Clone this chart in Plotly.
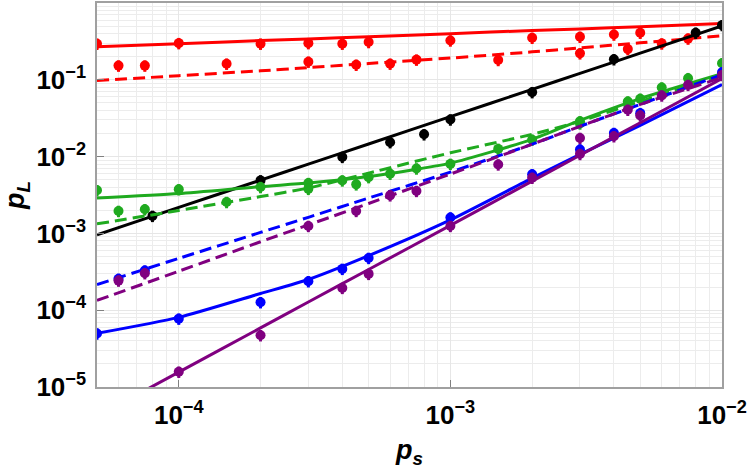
import plotly.graph_objects as go

# ---------- data ----------
LINE_X = [5e-5, 1e-4, 2e-4, 3e-4, 5e-4, 1e-3, 2e-3, 3e-3, 5e-3, 1e-2]

red_line = [0.269, 0.295, 0.324, 0.340, 0.364, 0.399, 0.438, 0.460, 0.492, 0.539]
red_dash_line = [0.0977, 0.113, 0.131, 0.144, 0.163, 0.192, 0.231, 0.260, 0.303, 0.374]
black_line = [9.6e-4, 2.18e-3, 4.94e-3, 7.98e-3, 1.46e-2, 3.31e-2, 7.52e-2, 0.121, 0.222, 0.504]
green_line = [2.89e-3, 3.30e-3, 4.07e-3, 4.52e-3, 5.49e-3, 8.22e-3, 1.68e-2, 2.97e-2, 5.70e-2, 0.120]
green_dash_line = [1.33e-3, 1.99e-3, 3.02e-3, 3.90e-3, 6.1e-3, 1.12e-2, 1.95e-2, 2.88e-2, 5.22e-2, 0.113]
blue_line = [5.0e-5, 8.07e-5, 1.65e-4, 2.51e-4, 5.13e-4, 1.50e-3, 5.25e-3, 1.07e-2, 2.55e-2, 8.67e-2]
blue_dash_line = [2.16e-4, 4.73e-4, 1.03e-3, 1.62e-3, 2.89e-3, 6.28e-3, 1.45e-2, 2.48e-2, 4.78e-2, 0.117]
purple_line = [4.16e-6, 1.56e-5, 5.88e-5, 1.28e-4, 3.39e-4, 1.27e-3, 4.79e-3, 1.04e-2, 2.76e-2, 0.104]
purple_dash_line = [1.34e-4, 3.22e-4, 7.78e-4, 1.29e-3, 2.45e-3, 5.92e-3, 1.45e-2, 2.48e-2, 4.78e-2, 0.107]

red_x = [5e-5, 1e-4, 2e-4, 3e-4, 4e-4, 5e-4, 1e-3, 2e-3, 3e-3, 4e-3, 5e-3]
red_y = [0.294, 0.30, 0.295, 0.30, 0.295, 0.31, 0.325, 0.352, 0.363, 0.388, 0.41]
red_dash_x = [6e-5, 7.5e-5, 1.5e-4, 3e-4, 4.5e-4, 6e-4, 7.5e-4, 1.5e-3, 3e-3, 4.5e-3, 6e-3, 7.5e-3]
red_dash_y = [0.153, 0.153, 0.162, 0.172, 0.157, 0.162, 0.183, 0.181, 0.221, 0.251, 0.297, 0.344]

black_x = [8e-5, 2e-4, 4e-4, 6e-4, 8e-4, 1e-3, 2e-3, 4e-3, 8e-3, 1e-2]
black_y = [1.69e-3, 4.9e-3, 9.9e-3, 1.54e-2, 1.95e-2, 3.04e-2, 6.9e-2, 0.185, 0.41, 0.515]

green_x = [5e-5, 1e-4, 2e-4, 3e-4, 4e-4, 5e-4, 1e-3, 2e-3, 3e-3, 5e-3, 1e-2]
green_y = [3.64e-3, 3.75e-3, 4.01e-3, 4.52e-3, 4.89e-3, 5.4e-3, 8.04e-3, 1.66e-2, 2.88e-2, 5.66e-2, 0.164]
green_dash_x = [6e-5, 7.5e-5, 1.5e-4, 3e-4, 4.5e-4, 6e-4, 7.5e-4, 1.5e-3, 3e-3, 4.5e-3, 6e-3, 7.5e-3]
green_dash_y = [1.96e-3, 2.06e-3, 2.56e-3, 3.8e-3, 4.35e-3, 5.97e-3, 7.0e-3, 1.26e-2, 2.7e-2, 5.22e-2, 7.92e-2, 0.105]

blue_x = [5e-5, 1e-4, 2e-4, 3e-4, 4e-4, 5e-4, 1e-3, 2e-3, 3e-3, 4e-3, 5e-3, 1e-2]
blue_y = [4.97e-5, 7.76e-5, 1.27e-4, 2.38e-4, 3.45e-4, 4.79e-4, 1.61e-3, 5.87e-3, 1.24e-2, 2.03e-2, 3.68e-2, 0.125]
blue_dash_x = [6e-5, 7.5e-5]
blue_dash_y = [2.56e-4, 3.28e-4]

purple_x = [1e-4, 2e-4, 4e-4, 5e-4, 1e-3, 2e-3, 3e-3, 4e-3, 5e-3, 1e-2]
purple_y = [1.58e-5, 4.72e-5, 1.95e-4, 2.97e-4, 1.25e-3, 5.3e-3, 1.08e-2, 1.84e-2, 3.43e-2, 0.115]
purple_dash_x = [6e-5, 7.5e-5, 3e-4, 4.5e-4, 6e-4, 7.5e-4, 1.5e-3, 3e-3, 4.5e-3, 6e-3, 7.5e-3]
purple_dash_y = [2.43e-4, 3.03e-4, 1.25e-3, 1.96e-3, 3.13e-3, 3.57e-3, 7.9e-3, 1.75e-2, 4.07e-2, 6.24e-2, 8.57e-2]

x_tickvals = [1e-4, 1e-3, 1e-2]
x_ticktext = ["<b>10<sup>−4</sup></b>", "<b>10<sup>−3</sup></b>", "<b>10<sup>−2</sup></b>"]
y_tickvals = [1e-5, 1e-4, 1e-3, 1e-2, 1e-1]
y_ticktext = ["<b>10<sup>−5</sup></b>", "<b>10<sup>−4</sup></b>", "<b>10<sup>−3</sup></b>",
              "<b>10<sup>−2</sup></b>", "<b>10<sup>−1</sup></b>"]

RED = "#ff0000"
BLACK = "#000000"
GREEN = "#1faa1f"
BLUE = "#0000ff"
PURPLE = "#800080"

FONT = "Liberation Sans, Arial, sans-serif"

# ---------- figure ----------
fig = go.Figure()

series = [
    (RED, red_line, red_dash_line, red_x, red_y, red_dash_x, red_dash_y),
    (BLACK, black_line, None, black_x, black_y, None, None),
    (GREEN, green_line, green_dash_line, green_x, green_y, green_dash_x, green_dash_y),
    (BLUE, blue_line, blue_dash_line, blue_x, blue_y, blue_dash_x, blue_dash_y),
    (PURPLE, purple_line, purple_dash_line, purple_x, purple_y, purple_dash_x, purple_dash_y),
]

def add_points(xs, ys, color):
    fig.add_trace(go.Scatter(
        x=xs, y=ys, mode="markers",
        marker=dict(color=color, size=10, symbol="circle", line=dict(width=0)),
        error_y=dict(type="percent", value=17, color=color, thickness=3, width=0),
        showlegend=False, hoverinfo="skip"))

for color, sl, dl, px_, py_, dx_, dy_ in series:
    fig.add_trace(go.Scatter(x=LINE_X, y=sl, mode="lines",
                             line=dict(color=color, width=3, shape="spline", smoothing=0.6),
                             showlegend=False, hoverinfo="skip"))
    if dl is not None:
        fig.add_trace(go.Scatter(x=LINE_X, y=dl, mode="lines",
                                 line=dict(color=color, width=3, dash="12px,6px",
                                           shape="spline", smoothing=0.6),
                                 showlegend=False, hoverinfo="skip"))
    add_points(px_, py_, color)
    if dx_ is not None:
        add_points(dx_, dy_, color)

axis_common = dict(
    type="log",
    showline=True, linecolor="#a0a0a0", linewidth=1.5, mirror=True,
    ticks="inside", ticklen=7, tickcolor="#808080", tickwidth=1,
    showgrid=True, gridcolor="#e6e6e6", gridwidth=1,
    zeroline=False,
    tickfont=dict(family=FONT, size=26, color="black"),
    minor=dict(dtick="D1", showgrid=True, gridcolor="#ececec", gridwidth=1, ticks=""),
)

fig.update_layout(
    width=750, height=469,
    margin=dict(l=97, r=28, t=1, b=82),
    paper_bgcolor="white", plot_bgcolor="white",
    showlegend=False,
    xaxis=dict(axis_common, range=[-4.30103, -2.0], tickmode="array",
               tickvals=x_tickvals, ticktext=x_ticktext, ticklabelstandoff=4,
               title=dict(text="<b><i>p</i><sub><i>s</i></sub></b>",
                          font=dict(family=FONT, size=27, color="black"),
                          standoff=12)),
    yaxis=dict(axis_common, range=[-5.0, 0.0], tickmode="array",
               tickvals=y_tickvals, ticktext=y_ticktext, ticklabelstandoff=4,
               title=dict(text="<b><i>p</i><sub><i>L</i></sub></b>",
                          font=dict(family=FONT, size=27, color="black"),
                          standoff=6)),
)

fig.write_html("out.html")
